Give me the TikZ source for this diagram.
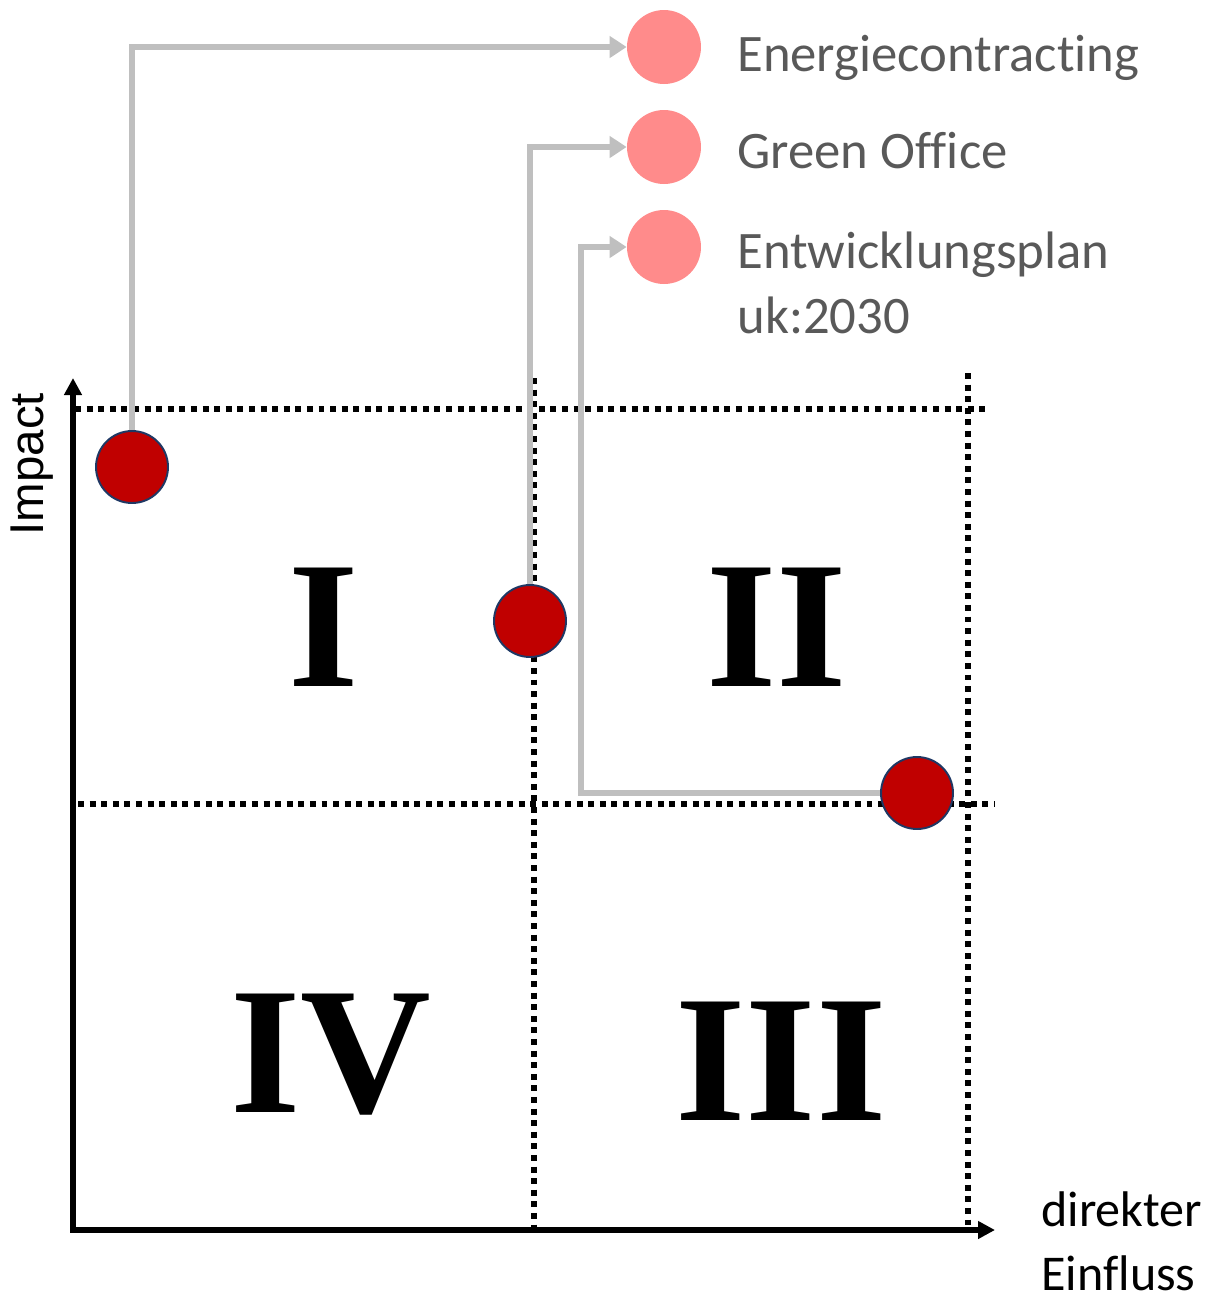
\documentclass[tikz,border=0pt]{standalone}
\usepackage{fontspec}
\setmainfont{Liberation Serif}
\newfontfamily\calibri[Ligatures=NoCommon]{Carlito}
\newfontfamily\arial{Liberation Sans}
\usetikzlibrary{arrows.meta}

\definecolor{dunkelrot}{HTML}{C00000}
\definecolor{rosa}{HTML}{FF8B8B}
\definecolor{randblau}{HTML}{1F3864}
\definecolor{hellgrau}{HTML}{BFBFBF}
\definecolor{textgrau}{HTML}{595959}

\tikzset{
	punkt/.style={circle,fill=dunkelrot,draw=randblau,line width=1.1pt,minimum size=1.44cm,inner sep=0pt},
	marke/.style={circle,fill=rosa,minimum size=1.48cm,inner sep=0pt},
	pfeil/.style={hellgrau,line width=3.2pt,-{Triangle[length=0.34cm,width=0.42cm]}},
	raster/.style={line width=3pt,dash pattern=on 3.4pt off 3.2pt},
	achse/.style={line width=3.4pt},
	quadrant/.style={font=\bfseries\fontsize{103}{103}\selectfont,anchor=base,inner sep=0pt},
	legende/.style={text=textgrau,font=\calibri\fontsize{30}{37}\selectfont,anchor=base west,inner sep=0pt,align=left}
}

\begin{document}
\begin{tikzpicture}[x=0.02cm,y=-0.02cm,>={Triangle[length=0.34cm,width=0.34cm]}]
\useasboundingbox (0,0) rectangle (1219,1303);

\foreach \y/\a/\b in {409/75/990,804/78/995}{
	\draw[raster] (\a,\y) -- (\b,\y);
}
\foreach \x/\t in {534/378,968/373}{
	\draw[raster] (\x,\t) -- (\x,1230);
}

\coordinate (o) at (73,1230);
\coordinate (ende y) at (73,378);
\coordinate (ende x) at (995,1230);
\draw[achse,<->] (ende y) -- (o) -- (ende x);

\node[quadrant] (q1) at (324,686) {I};
\node[quadrant] (q2) at (777,686) {II};
\node[quadrant] (q3) at (781,1120) {III};
\node[quadrant] (q4) at (331,1112) {IV};

\node[punkt] (energie) at (132,467) {};
\node[punkt] (office) at (530,621) {};
\node[punkt] (plan) at (917,793) {};

\node[marke] (l-energie) at (664,47) {};
\node[marke] (l-office) at (664,147) {};
\node[marke] (l-plan) at (664,247) {};

\draw[pfeil] (energie.north) |- (l-energie.west);
\draw[pfeil] (office.north) |- (l-office.west);
\coordinate (knick) at (581,793);
\draw[pfeil] (plan.west) -- (knick) |- (l-plan.west);

\node[legende] (t-energie) at (737,71) {Energiecontracting};
\node[legende] (t-office) at (737,168) {Green Office};
\node[legende] (t-plan) at (737,333) {Entwicklungsplan\\uk:2030};

\node[font=\arial\fontsize{27}{27}\selectfont,rotate=90,anchor=base,inner sep=0pt] (impact) at (43,464) {Impact};
\node[font=\calibri\fontsize{28.5}{36}\selectfont,anchor=base west,align=left,inner sep=0pt] (einfluss) at (1041,1290) {direkter\\Einfluss};
\end{tikzpicture}
\end{document}
